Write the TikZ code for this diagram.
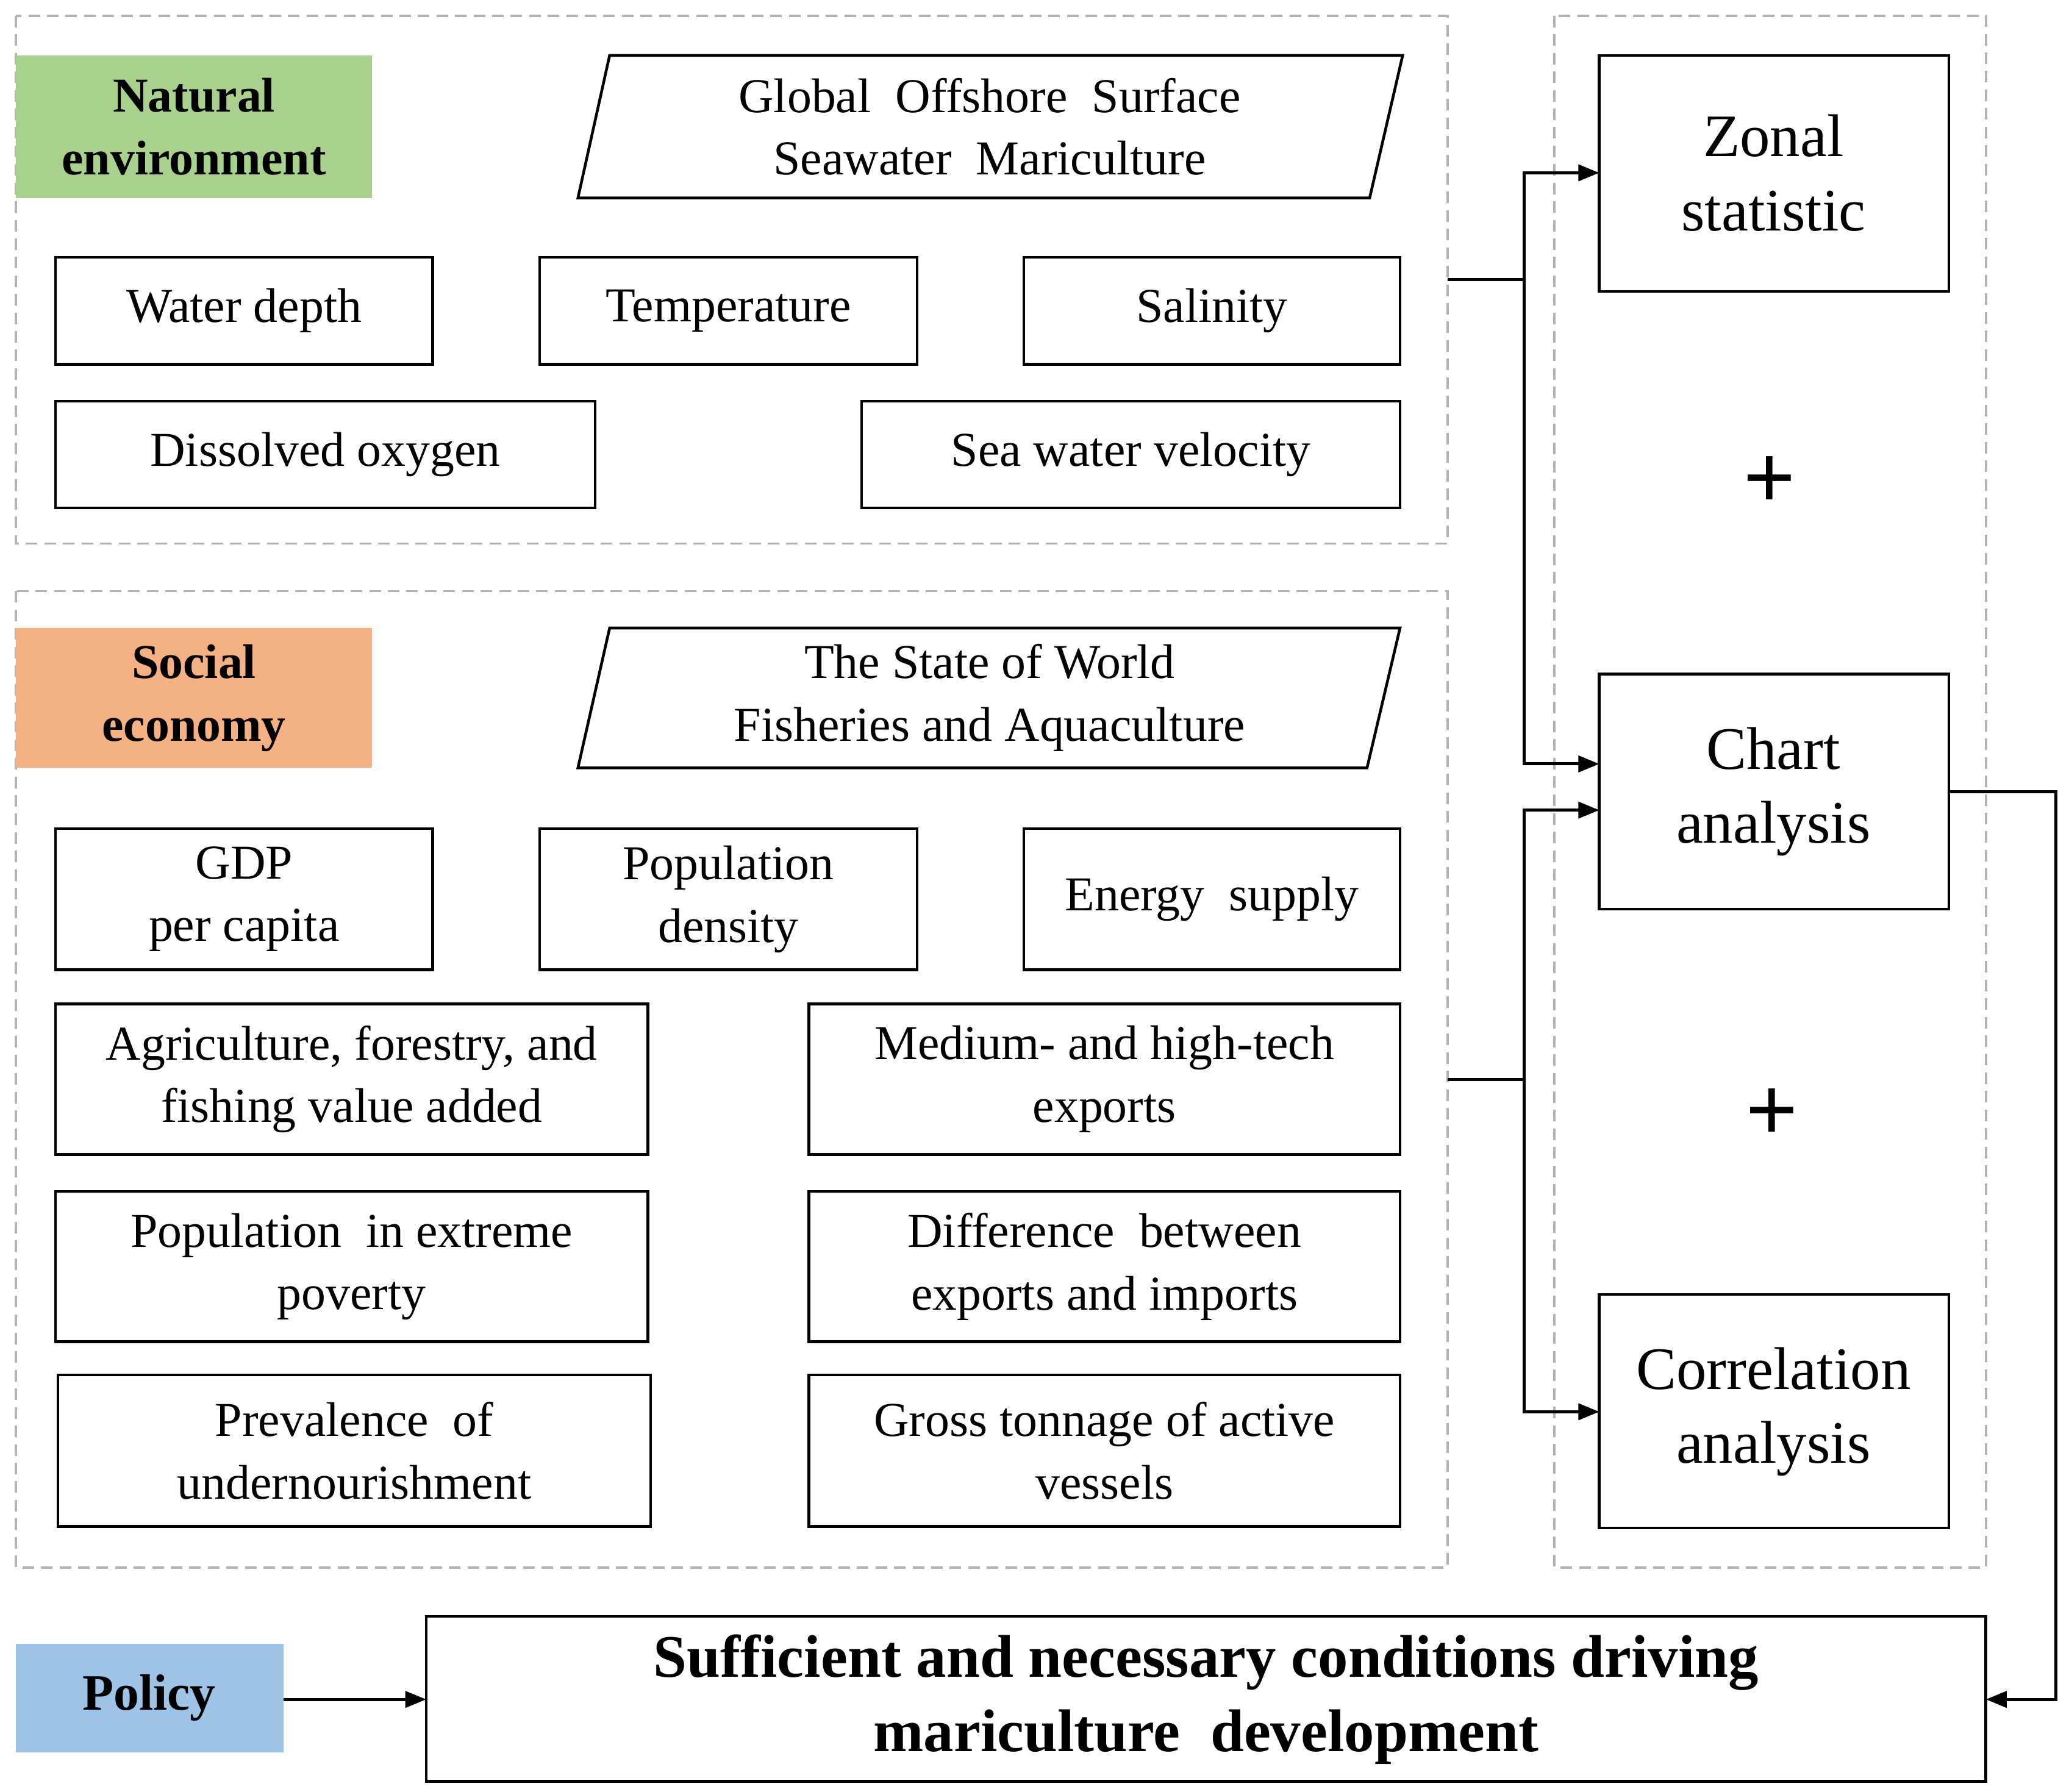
\documentclass[tikz,border=0pt]{standalone}
\usepackage{fontspec}
\setmainfont{Liberation Serif}
\usetikzlibrary{arrows.meta,shapes.geometric}
\begin{document}
\begin{tikzpicture}[x=0.02cm,y=-0.02cm,
  box/.style={draw,line width=1.2pt,align=center,font=\fontsize{21}{27}\selectfont},
  dbox/.style={draw=gray!60,dashed,line width=1pt,dash pattern=on 5pt off 3pt},
  lab/.style={align=center,font=\fontsize{21}{27}\selectfont\bfseries},
  big/.style={draw,line width=1.2pt,align=center,font=\fontsize{26}{32}\selectfont},
  con/.style={line width=1.3pt},
  arr/.style={line width=1.3pt,-{Triangle[length=9pt,width=7pt]}}]
\useasboundingbox (0,0) rectangle (1568,1358);
\draw[dbox] (12,12) rectangle (1097,412);
\draw[dbox] (12,448) rectangle (1097,1188);
\draw[dbox] (1178,12) rectangle (1505,1188);
% labels
\fill[fill={rgb,255:red,169;green,209;blue,142}] (12,42) rectangle (282,150);
\node[lab] (ne) at (147,96) {Natural\\environment};
\fill[fill={rgb,255:red,244;green,177;blue,131}] (12,476) rectangle (282,582);
\node[lab] (se) at (147,529) {Social\\economy};
\fill[fill={rgb,255:red,157;green,195;blue,230}] (12,1246) rectangle (215,1328);
\node[lab,font=\fontsize{22}{28}\selectfont\bfseries] (pol) at (113,1287) {Policy};
% parallelograms
\draw[line width=1.2pt] (438,150) -- (462,42) -- (1063,42) -- (1038,150) -- cycle;
\node[align=center,font=\fontsize{21}{27}\selectfont] (p1) at (750,96) {Global\ \ Offshore\ \ Surface\\Seawater\ \ Mariculture};
\draw[line width=1.2pt] (438,582) -- (462,476) -- (1061,476) -- (1036,582) -- cycle;
\node[align=center,font=\fontsize{21}{27}\selectfont] (p2) at (750,529) {The State of World\\Fisheries and Aquaculture};
% boxes
\newcommand{\bx}[6]{\draw[line width=1.2pt] (#2,#3) rectangle (#4,#5); \node[align=center,font=\fontsize{21}{27}\selectfont] (#1) at ({(#2+#4)/2},{(#3+#5)/2}) {#6};}
\bx{wd}{42}{195}{328}{276}{Water\ depth}
\bx{tp}{409}{195}{695}{276}{Temperature}
\bx{sa}{776}{195}{1061}{276}{Salinity}
\bx{do}{42}{304}{451}{385}{Dissolved\ oxygen}
\bx{sv}{653}{304}{1061}{385}{Sea\ water\ velocity}
\bx{gdp}{42}{628}{328}{735}{GDP\\per capita}
\bx{pd}{409}{628}{695}{735}{Population\\density}
\bx{es}{776}{628}{1061}{735}{Energy\ \ supply}
\bx{ag}{42}{761}{491}{875}{Agriculture,\ forestry,\ and\\fishing\ value\ added}
\bx{mh}{613}{761}{1061}{875}{Medium-\ and\ high-tech\\exports}
\bx{pe}{42}{903}{491}{1017}{Population\ \ in\ extreme\\poverty}
\bx{de}{613}{903}{1061}{1017}{Difference\ \ between\\exports\ and\ imports}
\bx{pu}{44}{1042}{493}{1157}{Prevalence\ \ of\\undernourishment}
\bx{gt}{613}{1042}{1061}{1157}{Gross\ tonnage\ of\ active\\vessels}
% right boxes
\draw[line width=1.2pt] (1212,42) rectangle (1477,221);
\node[align=center,font=\fontsize{26}{32}\selectfont] (zs) at (1344,131) {Zonal\\statistic};
\draw[line width=1.2pt] (1212,511) rectangle (1477,689);
\node[align=center,font=\fontsize{26}{32}\selectfont] (ca) at (1344,600) {Chart\\analysis};
\draw[line width=1.2pt] (1212,981) rectangle (1477,1158);
\node[align=center,font=\fontsize{26}{32}\selectfont] (cr) at (1344,1070) {Correlation\\analysis};
\node[font=\fontsize{40}{40}\selectfont\bfseries] (pl1) at (1341,366) {+};
\node[font=\fontsize{40}{40}\selectfont\bfseries] (pl2) at (1343,845) {+};
% final
\draw[line width=1.2pt] (323,1225) rectangle (1505,1350);
\node[align=center,font=\fontsize{26}{32}\selectfont\bfseries] (fin) at (914,1288) {Sufficient\ and\ necessary\ conditions\ driving\\mariculture\ \ development};
% connectors
\coordinate (s1) at (1097,212); \coordinate (j1) at (1155,212);
\coordinate (s2) at (1097,818); \coordinate (j2) at (1155,818);
\coordinate (zw) at (1212,131); \coordinate (cw1) at (1212,579);
\coordinate (cw2) at (1212,614); \coordinate (crw) at (1212,1070);
\coordinate (ce) at (1477,600); \coordinate (r1) at (1558,600);
\coordinate (fe) at (1505,1288); \coordinate (fw) at (323,1288);
\coordinate (pe2) at (215,1288);
\draw[con] (s1) -- (j1);
\draw[arr] (j1) |- (zw);
\draw[arr] (j1) |- (cw1);
\draw[con] (s2) -- (j2);
\draw[arr] (j2) |- (cw2);
\draw[arr] (j2) |- (crw);
\draw[arr] (ce) -- (r1) |- (fe);
\draw[arr] (pe2) -- (fw);
\end{tikzpicture}
\end{document}
